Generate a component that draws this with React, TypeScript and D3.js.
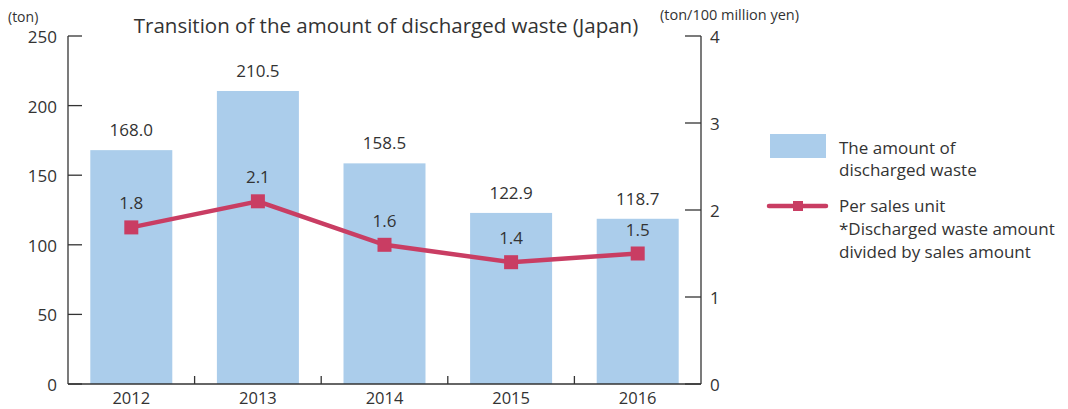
import React from "react";
import * as d3 from "d3";

const years = ["2012", "2013", "2014", "2015", "2016"];
const waste = [168.0, 210.5, 158.5, 122.9, 118.7];
const perSales = [1.8, 2.1, 1.6, 1.4, 1.5];
const leftTicks = [0, 50, 100, 150, 200, 250];
const rightTicks = [0, 1, 2, 3, 4];

const W = 1068;
const H = 409;
const left = 68;
const right = 701;
const top = 36;
const bottom = 384;

const barColor = "#abcdeb";
const lineColor = "#c93d63";
const textColor = "#333";
const font = "'Open Sans', sans-serif";

export default function App() {
  const x = d3.scaleBand<string>().domain(years).range([left, right]);
  const yL = d3.scaleLinear().domain([0, 250]).range([bottom, top]);
  const yR = d3.scaleLinear().domain([0, 4]).range([bottom, top]);
  const barW = 82;
  const cx = (y: string) => (x(y) as number) + x.bandwidth() / 2;

  const line = d3
    .line<number>()
    .x((_, i) => cx(years[i]))
    .y((d) => yR(d));

  return (
    <svg
      width={W}
      height={H}
      style={{ position: "absolute", left: 0, top: 0, fontFamily: font }}
    >
      <rect width={W} height={H} fill="#fff" />
      <text x={386} y={33} fontSize={20.5} fill={textColor} textAnchor="middle">
        Transition of the amount of discharged waste (Japan)
      </text>
      <text x={8} y={22} fontSize={14} fill={textColor}>
        (ton)
      </text>
      <text x={660} y={20} fontSize={14.5} fill={textColor}>
        (ton/100 million yen)
      </text>

      {years.map((y, i) => (
        <rect
          key={y}
          x={cx(y) - barW / 2}
          y={yL(waste[i])}
          width={barW}
          height={bottom - yL(waste[i])}
          fill={barColor}
        />
      ))}

      {/* axes */}
      <g stroke="#333" strokeWidth={1.3} fill="none">
        <line x1={left} x2={left} y1={top} y2={bottom} />
        <line x1={right} x2={right} y1={top} y2={bottom} />
        <line x1={left} x2={right} y1={bottom} y2={bottom} />
        {leftTicks.map((t) => (
          <line key={t} x1={left} x2={left + 14} y1={yL(t)} y2={yL(t)} />
        ))}
        {rightTicks.map((t) => (
          <line key={t} x1={right - 16} x2={right} y1={yR(t)} y2={yR(t)} />
        ))}
        {years.slice(1).map((y) => (
          <line key={y} x1={x(y)} x2={x(y)} y1={bottom} y2={bottom - 8} />
        ))}
      </g>
      {leftTicks.map((t) => (
        <text key={t} x={57} y={yL(t) + 7} fontSize={17} fill={textColor} textAnchor="end">
          {t}
        </text>
      ))}
      {rightTicks.map((t) => (
        <text key={t} x={710} y={yR(t) + 7} fontSize={17} fill={textColor}>
          {t}
        </text>
      ))}
      {years.map((y) => (
        <text key={y} x={cx(y)} y={404} fontSize={16.5} fill={textColor} textAnchor="middle">
          {y}
        </text>
      ))}

      {years.map((y, i) => (
        <text key={y} x={cx(y)} y={yL(waste[i]) - 14} fontSize={17} fill={textColor} textAnchor="middle">
          {waste[i].toFixed(1)}
        </text>
      ))}

      <path d={line(perSales) || ""} fill="none" stroke={lineColor} strokeWidth={4.5} />
      {perSales.map((v, i) => (
        <rect key={i} x={cx(years[i]) - 7} y={yR(v) - 7} width={14} height={14} fill={lineColor} />
      ))}
      {perSales.map((v, i) => (
        <text key={i} x={cx(years[i])} y={yR(v) - 18} fontSize={17} fill={textColor} textAnchor="middle">
          {v.toFixed(1)}
        </text>
      ))}

      {/* legend */}
      <rect x={770} y={134} width={56} height={24} fill={barColor} />
      <text x={839} y={154} fontSize={17} fill={textColor}>The amount of</text>
      <text x={839} y={176} fontSize={17} fill={textColor}>discharged waste</text>
      <line x1={769} x2={826} y1={206} y2={206} stroke={lineColor} strokeWidth={4.5} strokeLinecap="round" />
      <rect x={793} y={201} width={10} height={10} fill={lineColor} />
      <text x={839} y={212} fontSize={17} fill={textColor}>Per sales unit</text>
      <text x={839} y={235} fontSize={17} fill={textColor}>*Discharged waste amount</text>
      <text x={839} y={258} fontSize={17} fill={textColor}>divided by sales amount</text>
    </svg>
  );
}
